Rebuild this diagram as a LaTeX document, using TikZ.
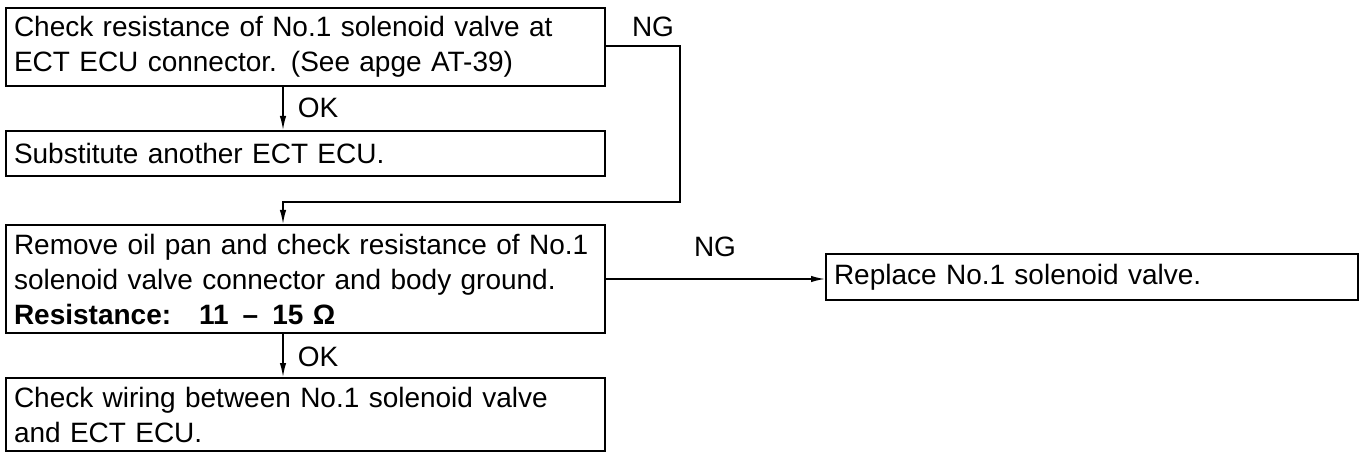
\documentclass[tikz,border=0pt]{standalone}
\usepackage{fontspec}
\setmainfont{Liberation Sans}
\usetikzlibrary{arrows.meta}
\begin{document}
\begin{tikzpicture}[x=0.5pt,y=-0.5pt,
  font=\fontsize{14pt}{17.5pt}\selectfont,
  box/.style={draw,line width=1pt,rectangle,inner xsep=4pt,inner ysep=0pt,align=left,anchor=center},
  lbox/.style={box,minimum width=299.5pt,text width=291.5pt},
  conn/.style={line width=0.7pt,-{Latex[length=7pt,width=3.2pt]}},
  lbl/.style={inner sep=0pt}]
\useasboundingbox (0,0) rectangle (1360,454);
\node[lbox,minimum height=39pt] (b1) at (305.5,47)
  {Check resistance of No.1 solenoid valve at\\ECT ECU connector. (See apge AT-39)};
\node[lbox,minimum height=22.5pt] (b2) at (305.5,153.5)
  {Substitute another ECT ECU.};
\node[lbox,minimum height=54pt] (b3) at (305.5,279)
  {Remove oil pan and check resistance of No.1\\solenoid valve connector and body ground.\\\textbf{Resistance:\quad 11 \,–\, 15 Ω}};
\node[lbox,minimum height=36.5pt] (b4) at (305.5,414.5)
  {Check wiring between No.1 solenoid valve\\and ECT ECU.};
\node[box,minimum width=266pt,text width=258pt,minimum height=23pt] (b5) at (1092,277)
  {Replace No.1 solenoid valve.};
\coordinate (c1) at (680,46);
\coordinate (c2) at (680,202);
\coordinate (c3) at (283,202);
\draw[conn] (b1.south -| c3) -- (b2.north -| c3);
\draw[conn] (b1.east |- c1) -- (c1) -- (c2) -- (c3) -- (b3.north -| c3);
\draw[conn] (b3.south -| c3) -- (b4.north -| c3);
\draw[conn] (b3.east) -- (b3.east -| b5.west);
\node[lbl] (ok1) at (318,108) {OK};
\node[lbl] (ok2) at (318,357) {OK};
\node[lbl] (ng1) at (653,27) {NG};
\node[lbl] (ng2) at (715,247) {NG};
\end{tikzpicture}
\end{document}
